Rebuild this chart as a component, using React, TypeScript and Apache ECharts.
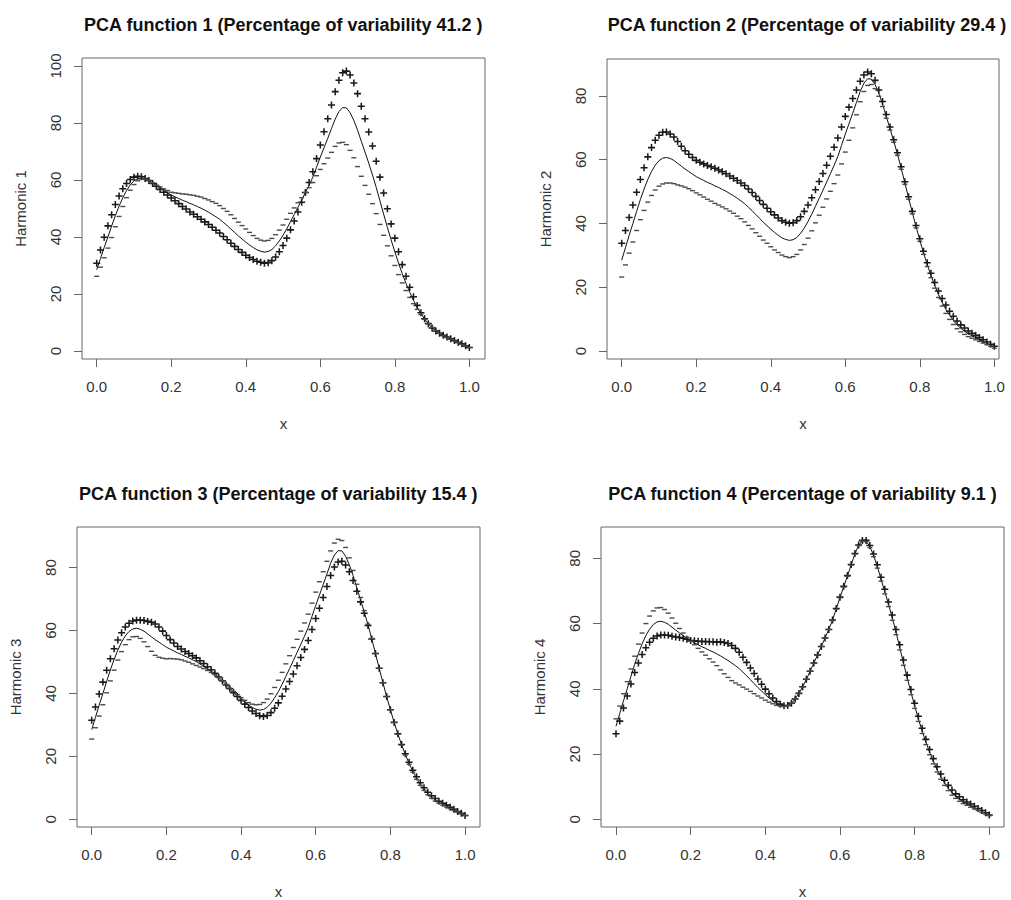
import React, { useEffect, useRef } from "react";
import * as echarts from "echarts";

// Evaluation grid (argument values)
const argvals = [
  0.0, 0.01, 0.02, 0.03, 0.04, 0.05, 0.06, 0.07, 0.08, 0.09,
  0.1, 0.11, 0.12, 0.13, 0.14, 0.15, 0.16, 0.17, 0.18, 0.19,
  0.2, 0.21, 0.22, 0.23, 0.24, 0.25, 0.26, 0.27, 0.28, 0.29,
  0.3, 0.31, 0.32, 0.33, 0.34, 0.35, 0.36, 0.37, 0.38, 0.39,
  0.4, 0.41, 0.42, 0.43, 0.44, 0.45, 0.46, 0.47, 0.48, 0.49,
  0.5, 0.51, 0.52, 0.53, 0.54, 0.55, 0.56, 0.57, 0.58, 0.59,
  0.6, 0.61, 0.62, 0.63, 0.64, 0.65, 0.66, 0.67, 0.68, 0.69,
  0.7, 0.71, 0.72, 0.73, 0.74, 0.75, 0.76, 0.77, 0.78, 0.79,
  0.8, 0.81, 0.82, 0.83, 0.84, 0.85, 0.86, 0.87, 0.88, 0.89,
  0.9, 0.91, 0.92, 0.93, 0.94, 0.95, 0.96, 0.97, 0.98, 0.99,
  1.0,
];

// Mean function (solid line, same in every panel)
const meanCurve = [
  28.5, 32.4, 36.3, 40.0, 43.8, 47.5, 50.8, 53.8, 56.3, 58.3,
  59.7, 60.5, 60.7, 60.4, 59.8, 58.9, 58.0, 57.1, 56.3, 55.5,
  54.7, 54.1, 53.5, 52.9, 52.4, 51.8, 51.3, 50.7, 50.1, 49.4,
  48.7, 47.9, 47.1, 46.2, 45.1, 44.0, 42.8, 41.6, 40.4, 39.3,
  38.2, 37.2, 36.3, 35.5, 35.0, 34.7, 34.9, 35.6, 36.9, 38.6,
  40.6, 42.9, 45.4, 47.9, 50.4, 53.0, 55.6, 58.2, 61.0, 64.5,
  68.0, 71.3, 74.6, 78.0, 81.4, 84.0, 85.4, 85.3, 83.6, 80.9,
  77.5, 73.6, 69.8, 65.9, 61.8, 57.4, 52.7, 48.0, 43.4, 39.0,
  34.8, 30.8, 27.1, 23.7, 20.6, 17.8, 15.3, 13.1, 11.2, 9.6,
  8.2, 7.1, 6.2, 5.4, 4.8, 4.2, 3.6, 3.0, 2.4, 1.8,
  1.2,
];

// Scaled harmonic perturbations (plus curve = mean + dev, minus curve = mean - dev)
const harmonic1Dev = [
  2.3, 3.0, 3.6, 3.9, 4.0, 3.9, 3.6, 3.1, 2.5, 1.9,
  1.3, 0.8, 0.4, 0.1, 0.0, -0.1, -0.2, -0.4, -0.6, -0.8,
  -1.0, -1.4, -1.8, -2.2, -2.6, -3.0, -3.3, -3.6, -3.9, -4.1,
  -4.3, -4.5, -4.7, -4.8, -4.9, -5.0, -5.0, -4.9, -4.8, -4.7,
  -4.6, -4.4, -4.2, -4.0, -3.9, -3.9, -3.9, -3.9, -3.9, -3.8,
  -3.6, -3.3, -2.9, -2.3, -1.6, -0.8, 0.0, 0.9, 1.9, 3.0,
  4.3, 5.6, 6.9, 8.3, 9.6, 11.0, 12.2, 12.9, 13.2, 13.1,
  12.8, 12.3, 11.7, 10.9, 10.1, 9.2, 8.3, 7.4, 6.5, 5.6,
  4.8, 4.0, 3.2, 2.5, 1.8, 1.2, 0.7, 0.3, 0.1, 0.0,
  -0.1, -0.1, 0.0, 0.1, 0.1, 0.1, 0.1, 0.1, 0.1, 0.0,
  0.0,
];
const harmonic2Dev = [
  5.3, 5.4, 5.6, 5.8, 6.0, 6.3, 6.7, 7.1, 7.5, 7.8,
  8.0, 8.1, 8.0, 7.7, 7.3, 6.8, 6.2, 5.7, 5.4, 5.2,
  5.1, 5.1, 5.2, 5.3, 5.4, 5.5, 5.5, 5.5, 5.5, 5.5,
  5.5, 5.6, 5.6, 5.7, 5.7, 5.7, 5.7, 5.6, 5.6, 5.5,
  5.5, 5.5, 5.4, 5.4, 5.4, 5.4, 5.3, 5.3, 5.2, 5.2,
  5.2, 5.2, 5.2, 5.3, 5.3, 5.3, 5.5, 5.7, 5.8, 5.8,
  5.6, 5.2, 4.6, 3.9, 3.2, 2.6, 2.1, 1.7, 1.3, 1.0,
  0.8, 0.6, 0.5, 0.4, 0.4, 0.4, 0.4, 0.4, 0.4, 0.4,
  0.4, 0.5, 0.6, 0.7, 0.9, 1.0, 1.2, 1.3, 1.3, 1.3,
  1.2, 1.1, 1.0, 0.9, 0.8, 0.7, 0.6, 0.5, 0.4, 0.3,
  0.3,
];
const harmonic3Dev = [
  3.0, 3.3, 3.5, 3.6, 3.6, 3.5, 3.4, 3.2, 3.0, 2.8,
  2.6, 2.5, 2.6, 2.9, 3.4, 4.0, 4.6, 5.0, 4.8, 4.3,
  3.7, 3.0, 2.5, 2.0, 1.7, 1.5, 1.4, 1.3, 1.2, 1.0,
  0.8, 0.6, 0.4, 0.2, 0.1, 0.0, -0.1, -0.1, -0.2, -0.3,
  -0.4, -0.6, -0.8, -1.1, -1.4, -1.8, -2.2, -2.6, -3.0, -3.3,
  -3.6, -3.8, -4.0, -4.1, -4.2, -4.2, -4.2, -4.2, -4.2, -4.2,
  -4.2, -4.2, -4.1, -4.0, -3.9, -3.8, -3.6, -3.3, -2.8, -2.2,
  -1.6, -1.1, -0.7, -0.4, -0.2, -0.1, 0.0, 0.0, 0.0, 0.0,
  0.0, 0.0, 0.1, 0.1, 0.2, 0.3, 0.3, 0.4, 0.4, 0.4,
  0.4, 0.4, 0.4, 0.3, 0.3, 0.3, 0.2, 0.2, 0.1, 0.1,
  0.0,
];
const harmonic4Dev = [
  -2.3, -2.3, -2.2, -2.2, -2.3, -2.5, -2.9, -3.3, -3.7, -4.0,
  -4.2, -4.3, -4.2, -3.9, -3.4, -2.8, -2.1, -1.4, -0.8, -0.3,
  0.1, 0.6, 1.1, 1.6, 2.1, 2.6, 3.1, 3.6, 4.3, 4.8,
  5.2, 5.4, 5.3, 5.0, 4.6, 4.1, 3.6, 3.1, 2.6, 2.1,
  1.7, 1.3, 0.9, 0.6, 0.3, 0.1, 0.0, 0.0, 0.0, 0.0,
  0.0, 0.0, 0.0, 0.0, 0.0, 0.0, 0.0, 0.0, 0.1, 0.1,
  0.1, 0.1, 0.1, 0.1, 0.1, 0.1, 0.1, 0.2, 0.3, 0.4,
  0.5, 0.6, 0.7, 0.7, 0.8, 0.8, 0.8, 0.8, 0.8, 0.8,
  0.8, 0.8, 0.8, 0.8, 0.8, 0.8, 0.8, 0.8, 0.8, 0.8,
  0.8, 0.7, 0.7, 0.6, 0.5, 0.5, 0.4, 0.3, 0.3, 0.2,
  0.1,
];

const titles = [
  "PCA function 1 (Percentage of variability 41.2 )",
  "PCA function 2 (Percentage of variability 29.4 )",
  "PCA function 3 (Percentage of variability 15.4 )",
  "PCA function 4 (Percentage of variability 9.1 )",
];
const yNames = ["Harmonic 1", "Harmonic 2", "Harmonic 3", "Harmonic 4"];
const xTickValues = [0, 0.2, 0.4, 0.6, 0.8, 1.0];
const yTickValues1 = [0, 20, 40, 60, 80, 100];
const yTickValues234 = [0, 20, 40, 60, 80];

const FONT = "'Liberation Sans', Arial, sans-serif";

const PLUS_PATH =
  "path://M3.9,0H6.1V3.9H10V6.1H6.1V10H3.9V6.1H0V3.9H3.9Z";

export default function App() {
  const ref = useRef<HTMLDivElement>(null);

  useEffect(() => {
    document.body.style.margin = "0";
    if (!ref.current) return;
    const chart = echarts.init(ref.current, undefined, { renderer: "svg" });

    const devs = [harmonic1Dev, harmonic2Dev, harmonic3Dev, harmonic4Dev];
    const yTicksPer = [yTickValues1, yTickValues234, yTickValues234, yTickValues234];

    const layout = [
      { left: 82, top: 58, width: 403, height: 301, xMin: -0.0395, xMax: 1.042, yMin: -2.81, yMax: 102.8, tx: 283.3, ty: 16, nameGap: 57 },
      { left: 607, top: 59, width: 392, height: 300, xMin: -0.0395, xMax: 1.0126, yMin: -2.51, yMax: 91.6, tx: 807, ty: 16, nameGap: 57 },
      { left: 77, top: 527, width: 403, height: 300, xMin: -0.0394, xMax: 1.04, yMin: -2.45, yMax: 92.9, tx: 278.3, ty: 485, nameGap: 57 },
      { left: 601, top: 527, width: 403, height: 300, xMin: -0.0402, xMax: 1.0394, yMin: -2.36, yMax: 89.6, tx: 802.5, ty: 485, nameGap: 57 },
    ];

    const grid = layout.map((l) => ({
      left: l.left,
      top: l.top,
      width: l.width,
      height: l.height,
      show: true,
      borderColor: "#666",
      borderWidth: 1,
      backgroundColor: "transparent",
      containLabel: false,
    }));

    const title = layout.map((l, i) => ({
      text: titles[i],
      left: l.tx,
      top: l.ty,
      textAlign: "center",
      padding: 0,
      textStyle: { fontFamily: FONT, fontSize: 18, fontWeight: "bold", color: "#111" },
    }));

    const xAxis = layout.map((l, i) => ({
      type: "value",
      gridIndex: i,
      min: l.xMin,
      max: l.xMax,
      name: "x",
      nameLocation: "middle",
      nameGap: l.nameGap,
      nameTextStyle: { fontFamily: FONT, fontSize: 15, color: "#333" },
      axisLine: { show: false, onZero: false },
      splitLine: { show: false },
      axisTick: { show: true, customValues: xTickValues, length: 8, lineStyle: { color: "#666", width: 1 } },
      axisLabel: {
        customValues: xTickValues,
        formatter: (v: number) => v.toFixed(1),
        margin: 20,
        fontSize: 15,
        fontFamily: FONT,
        color: "#333",
      },
    }));

    const yAxis = layout.map((l, i) => ({
      type: "value",
      gridIndex: i,
      min: l.yMin,
      max: l.yMax,
      name: yNames[i],
      nameLocation: "middle",
      nameGap: 54,
      nameTextStyle: { fontFamily: FONT, fontSize: 15, color: "#333" },
      axisLine: { show: false, onZero: false },
      splitLine: { show: false },
      axisTick: { show: true, customValues: yTicksPer[i], length: 8, lineStyle: { color: "#666", width: 1 } },
      axisLabel: {
        customValues: yTicksPer[i],
        formatter: (v: number) => String(Math.round(v)),
        rotate: 90,
        margin: 19,
        fontSize: 15,
        fontFamily: FONT,
        color: "#333",
      },
    }));

    const series: any[] = [];
    devs.forEach((dev, i) => {
      series.push({
        type: "line",
        xAxisIndex: i,
        yAxisIndex: i,
        data: argvals.map((x, j) => [x, meanCurve[j]]),
        showSymbol: false,
        silent: true,
        lineStyle: { color: "#111", width: 1 },
        z: 2,
      });
      series.push({
        type: "scatter",
        xAxisIndex: i,
        yAxisIndex: i,
        data: argvals.map((x, j) => [x, meanCurve[j] + dev[j]]),
        symbol: PLUS_PATH,
        symbolSize: 7,
        silent: true,
        itemStyle: { color: "#1a1a1a", opacity: 1 },
        z: 3,
      });
      series.push({
        type: "scatter",
        xAxisIndex: i,
        yAxisIndex: i,
        data: argvals.map((x, j) => [x, meanCurve[j] - dev[j]]),
        symbol: "rect",
        symbolSize: [5, 1.4],
        silent: true,
        itemStyle: { color: "#4a4a4a", opacity: 1 },
        z: 3,
      });
    });

    chart.setOption({
      animation: false,
      backgroundColor: "#fff",
      textStyle: { fontFamily: FONT },
      title,
      grid,
      xAxis,
      yAxis,
      series,
    });

    return () => {
      chart.dispose();
    };
  }, []);

  return <div ref={ref} style={{ width: 1011, height: 900 }} />;
}
